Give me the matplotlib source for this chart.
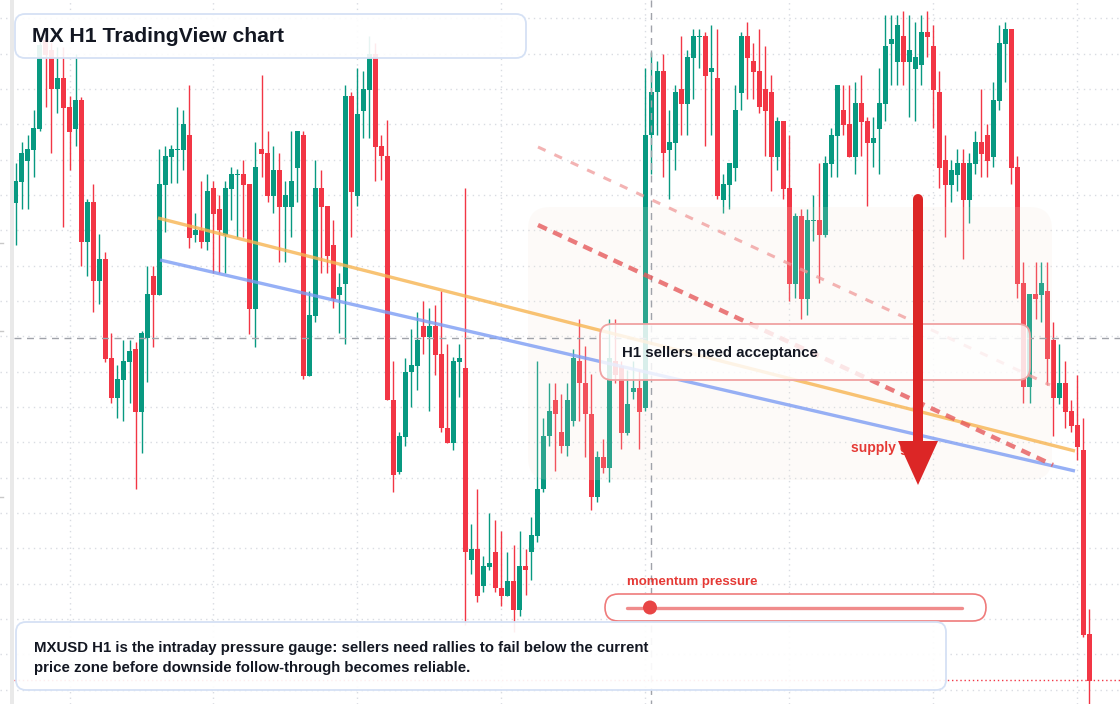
import matplotlib
matplotlib.use("Agg")
import matplotlib.pyplot as plt
from matplotlib.patches import FancyBboxPatch, Polygon, Rectangle, Circle

plt.rcParams['font.family'] = ['Liberation Sans', 'DejaVu Sans']
plt.rcParams['lines.scale_dashes'] = False

# ---- candle data (price levels, chart scale inverted: smaller = higher) ----
opens = [203,182,161,150,129,40,50,89,78,107,
         129,100,242,202,281,259,358,398,380,362,
         349,412,338,276,295,185,157,149,150,135,
         235,230,242,188,209,235,189,174,174,184,
         309,149,153,196,170,207,207,168,135,376,
         316,188,206,245,295,284,96,196,111,90,
         54,146,156,400,472,437,372,366,326,337,
         326,354,428,443,362,368,560,549,586,567,
         552,588,596,581,610,566,552,536,489,436,
         400,432,446,421,361,383,414,497,457,468,
         361,366,433,392,388,408,135,92,71,150,
         143,89,104,58,36,36,72,78,200,185,
         168,93,36,61,71,89,92,157,121,188,
         284,216,299,220,220,235,164,136,110,124,
         157,103,121,143,129,104,44,62,36,62,
         69,65,32,46,92,160,185,175,163,200,
         164,142,135,157,101,44,29,167,283,387,
         294,295,291,340,398,383,411,425,450,634]
closes = [181,153,149,128,45,55,89,78,108,132,
          100,242,202,281,259,359,398,379,361,351,
          412,333,294,295,184,156,149,149,124,238,
          230,242,191,214,230,188,174,174,185,309,
          167,154,196,170,207,195,181,131,376,315,
          188,207,256,299,287,96,192,114,89,54,
          147,156,400,475,436,372,365,340,337,326,
          355,428,443,361,358,552,549,596,566,563,
          588,596,581,610,566,570,535,489,436,411,
          414,446,400,358,383,414,497,457,468,358,
          375,433,404,388,412,135,92,71,153,142,
          92,104,57,36,36,76,68,196,184,163,
          110,36,58,72,107,111,157,121,189,284,
          216,299,220,220,235,163,135,85,125,157,
          103,122,143,138,103,46,39,25,62,50,
          57,32,37,90,168,185,170,163,200,163,
          142,154,161,100,43,29,168,284,387,294,
          299,283,359,398,383,412,426,447,635,681]
highs = [163,142,135,110,38,35,42,47,47,96,
         54,97,199,184,234,252,333,365,340,340,
         342,331,266,266,149,146,145,107,110,85,
         213,181,174,181,195,181,167,169,160,184,
         142,75,131,146,153,181,131,131,131,291,
         160,170,206,220,273,85,92,68,71,36,
         43,135,120,361,432,358,329,312,301,308,
         305,291,344,357,344,188,524,489,556,513,
         520,531,552,545,531,549,517,361,418,383,
         383,394,383,349,319,346,374,451,439,319,
         319,361,370,361,370,68,52,61,54,110,
         85,36,50,29,29,32,25,29,174,163,
         85,32,22,43,29,46,75,117,121,135,
         213,209,209,195,163,156,128,85,85,85,
         82,75,117,117,68,15,15,15,11,15,
         22,15,11,25,71,135,160,149,149,153,
         131,89,124,82,25,22,29,156,262,294,
         262,262,262,322,344,361,400,375,418,609]
lows = [245,209,209,177,131,107,153,113,227,170,
        146,266,276,312,304,362,403,418,421,403,
        489,453,382,347,295,232,183,183,170,248,
        242,248,250,273,273,273,220,237,237,334,
        347,177,202,213,262,262,237,202,379,376,
        322,273,273,308,333,344,237,206,138,138,
        181,180,400,492,474,446,407,390,354,411,
        375,432,443,450,397,625,574,602,592,570,
        592,606,596,632,616,595,580,542,492,446,
        471,453,456,426,421,457,510,502,473,482,
        383,449,435,399,449,411,174,135,177,199,
        170,135,135,99,68,146,135,199,213,209,
        181,110,99,99,113,156,191,170,199,301,
        298,319,315,241,283,237,177,177,135,157,
        174,156,206,167,174,121,85,85,85,117,
        121,85,57,128,188,237,202,191,259,223,
        174,177,177,167,110,82,184,298,403,403,
        319,322,385,436,404,428,432,460,637,704]

title = "MX H1 TradingView chart"
note_text = ("MXUSD H1 is the intraday pressure gauge: sellers need rallies to fail below the current\n"
             "price zone before downside follow-through becomes reliable.")
callout_text = "H1 sellers need acceptance"
gauge_label = "momentum pressure"
zone_label = "supply gate"

UP = '#089981'
DOWN = '#f23645'

W, H = 1120, 704
fig = plt.figure(figsize=(W / 100, H / 100), dpi=100)
ax = fig.add_axes([0, 0, 1, 1])
n = len(opens)
x0px, step = 15.5, 6.0
ax.set_xlim(-x0px / step, (W - x0px) / step)
ax.set_ylim(H, 0)
for s in ax.spines.values():
    s.set_visible(False)
ax.tick_params(length=0, labelleft=False, labelbottom=False)
ax.set_yticks([18.3 + 35.33 * k for k in range(20)])
ax.set_xticks([9 + 24 * k for k in range(8)])
ax.grid(True, color='#d9dce2', linestyle=(0, (1, 3)), linewidth=1.0, zorder=0)
ax.set_axisbelow(True)

for i in range(n):
    o, c, h, l = opens[i], closes[i], highs[i], lows[i]
    col = UP if c <= o else DOWN
    ax.vlines(i, h, l, color=col, linewidth=1.0, zorder=2)
    top = min(o, c)
    hgt = max(abs(o - c), 1.2)
    ax.bar(i, hgt, bottom=top, width=0.78, color=col, linewidth=0, zorder=3)

# ---- overlay in pixel coordinates ----
ov = fig.add_axes([0, 0, 1, 1])
ov.set_xlim(0, W)
ov.set_ylim(H, 0)
ov.axis('off')
ov.patch.set_alpha(0)

# left scale strip
ov.add_patch(Rectangle((10, 0), 4, H, facecolor='#e9e9e9', edgecolor='none', zorder=1))
for yy in (243, 331, 497):
    ov.plot([0, 3], [yy, yy], color='#c8c8c8', lw=1, zorder=1)

# shaded zone
ov.add_patch(FancyBboxPatch((528, 207), 524, 273, boxstyle="round,pad=0,rounding_size=22",
                            facecolor='#f3e6d8', edgecolor='none', alpha=0.16, zorder=2))

# crosshair + last price line
ov.plot([14, W], [338, 338], color='#a0a3aa', lw=1, dashes=(5, 4), zorder=3)
ov.plot([651, 651], [0, H], color='#a0a3aa', lw=1, dashes=(5, 4), zorder=3)
ov.plot([14, W], [680, 680], color=DOWN, lw=1, dashes=(1, 2), zorder=3)

# trend lines
ov.plot([158, 1075], [218, 451], color='#f7b451', lw=2.4, alpha=0.8, solid_capstyle='butt', zorder=4)
ov.plot([160, 1075], [260, 471], color='#7c9cf4', lw=2.4, alpha=0.8, solid_capstyle='butt', zorder=4)
ov.plot([538, 1053], [225, 465], color='#e65a5c', lw=3.2, alpha=0.8, dashes=(7, 5), zorder=4)
ov.plot([538, 1050], [147, 385], color='#f09a9a', lw=2.2, alpha=0.75, dashes=(6, 7), zorder=4)

# callout box
ov.add_patch(FancyBboxPatch((600, 324), 430, 56, boxstyle="round,pad=0,rounding_size=12",
                            facecolor='white', alpha=0.82, edgecolor='none', zorder=5))
ov.add_patch(FancyBboxPatch((600, 324), 430, 56, boxstyle="round,pad=0,rounding_size=12",
                            facecolor='none', edgecolor='#f0a2a2', lw=1.3, zorder=5))
ov.text(622, 353, callout_text, fontsize=10.8, fontweight='bold', color='#131722',
        va='center', ha='left', zorder=6)

# supply label + arrow
ov.text(851, 448, zone_label, fontsize=10, fontweight='bold', color='#e53935',
        va='center', ha='left', zorder=6)
ov.plot([918, 918], [199, 445], color='#dc2626', lw=7.2, solid_capstyle='round', zorder=7)
ov.add_patch(Polygon([[898, 441], [938, 441], [918, 485]], closed=True,
                     facecolor='#dc2626', edgecolor='none', zorder=7))

# momentum gauge
ov.text(627, 582, gauge_label, fontsize=9.5, fontweight='bold', color='#e53935',
        va='center', ha='left', zorder=6)
ov.add_patch(FancyBboxPatch((605, 594), 381, 27, boxstyle="round,pad=0,rounding_size=13.5",
                            facecolor='white', edgecolor='#ef7b7b', lw=1.2, zorder=5))
ov.plot([627, 962], [607.5, 607.5], color='#f08c8c', lw=2.4, solid_capstyle='round', zorder=6)
ov.add_patch(Circle((650, 607.5), 7, facecolor='#e84545', edgecolor='none', zorder=7))

# title box
ov.add_patch(FancyBboxPatch((15, 14), 511, 44, boxstyle="round,pad=0,rounding_size=10",
                            facecolor='white', alpha=0.9, edgecolor='none', zorder=8))
ov.add_patch(FancyBboxPatch((15, 14), 511, 44, boxstyle="round,pad=0,rounding_size=10",
                            facecolor='none', edgecolor='#d5e1f5', lw=1.3, zorder=8))
ov.text(32, 36, title, fontsize=15.2, fontweight='bold', color='#131722',
        va='center', ha='left', zorder=9)

# bottom note box
ov.add_patch(FancyBboxPatch((16, 622), 930, 68, boxstyle="round,pad=0,rounding_size=10",
                            facecolor='white', alpha=0.92, edgecolor='none', zorder=8))
ov.add_patch(FancyBboxPatch((16, 622), 930, 68, boxstyle="round,pad=0,rounding_size=10",
                            facecolor='none', edgecolor='#d5e1f5', lw=1.3, zorder=8))
ov.text(34, 648, note_text.split("\n")[0], fontsize=10.8, fontweight='bold', color='#131722',
        va='center', ha='left', zorder=9)
ov.text(34, 668, note_text.split("\n")[1], fontsize=10.8, fontweight='bold', color='#131722',
        va='center', ha='left', zorder=9)

fig.savefig('out.png', dpi=100)
